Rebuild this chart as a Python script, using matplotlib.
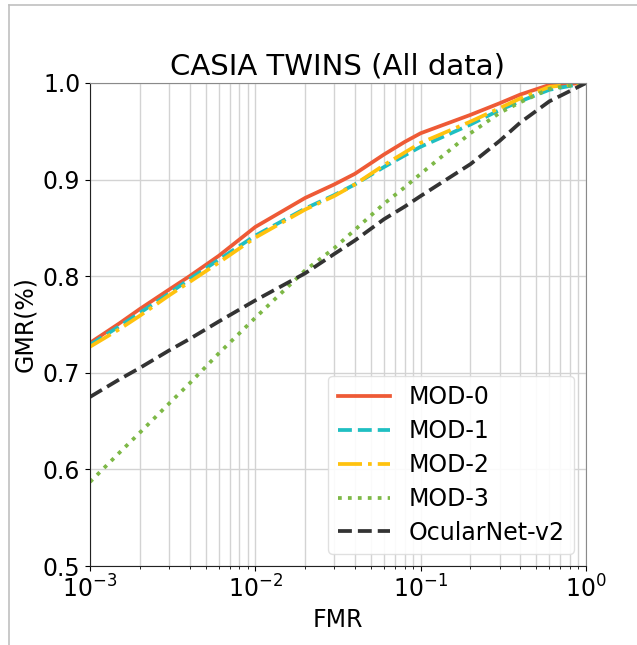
import matplotlib
matplotlib.use("Agg")
import matplotlib.pyplot as plt
from matplotlib.lines import Line2D

# False match rate sample points (log scale)
fmr = [1e-3, 1.5e-3, 2e-3, 3e-3, 4e-3, 6e-3, 1e-2, 2e-2, 3e-2, 4e-2,
       6e-2, 8e-2, 1e-1, 2e-1, 3e-1, 4e-1, 6e-1, 1.0]

# Genuine match rate per model
gmr_mod0 = [0.731, 0.751, 0.766, 0.786, 0.800, 0.821, 0.851, 0.881, 0.895, 0.906,
            0.926, 0.939, 0.948, 0.967, 0.979, 0.988, 0.998, 1.0]
gmr_mod1 = [0.729, 0.748, 0.762, 0.782, 0.797, 0.817, 0.842, 0.870, 0.884, 0.895,
            0.913, 0.925, 0.934, 0.957, 0.972, 0.981, 0.993, 1.0]
gmr_mod2 = [0.727, 0.745, 0.759, 0.780, 0.794, 0.814, 0.840, 0.869, 0.883, 0.895,
            0.915, 0.928, 0.938, 0.960, 0.974, 0.984, 0.996, 1.0]
gmr_mod3 = [0.587, 0.617, 0.638, 0.668, 0.689, 0.720, 0.757, 0.806, 0.829, 0.848,
            0.875, 0.892, 0.906, 0.948, 0.969, 0.980, 0.994, 1.0]
gmr_ocular = [0.675, 0.693, 0.705, 0.723, 0.735, 0.753, 0.775, 0.803, 0.823, 0.837,
              0.859, 0.872, 0.883, 0.916, 0.940, 0.959, 0.981, 1.0]

labels = ["MOD-0", "MOD-1", "MOD-2", "MOD-3", "OcularNet-v2"]
yticks = [0.5, 0.6, 0.7, 0.8, 0.9, 1.0]

fig = plt.figure(figsize=(6.37, 6.45), dpi=100)
ax = fig.add_axes([90 / 637, 1 - 566 / 645, (586 - 90) / 637, (566 - 83) / 645])

lw = 2.7
ax.plot(fmr, gmr_mod0, color="#EE5A36", ls="-", lw=lw, label=labels[0])
ax.plot(fmr, gmr_mod1, color="#1FBFC2", ls="--", lw=lw, label=labels[1])
ax.plot(fmr, gmr_mod2, color="#FFC20E", ls="-.", lw=lw, label=labels[2])
ax.plot(fmr, gmr_mod3, color="#7DB846", ls=":", lw=lw, label=labels[3])
ax.plot(fmr, gmr_ocular, color="#333333", ls="--", lw=lw, label=labels[4])

ax.set_xscale("log")
ax.set_xlim(1e-3, 1.0)
ax.set_ylim(0.5, 1.0)
ax.set_yticks(yticks)
ax.set_yticklabels([f"{v:.1f}" for v in yticks])
ax.grid(True, which="both", color="#d3d3d3", lw=1.0)
ax.set_axisbelow(True)

for side in ("top", "right"):
    ax.spines[side].set_color("#8a8a8a")
for side in ("left", "bottom"):
    ax.spines[side].set_color("#222222")

ax.tick_params(axis="both", which="major", labelsize=17)
ax.set_title("CASIA TWINS (All data)", fontsize=21, pad=6)
ax.set_xlabel("FMR", fontsize=17)
ax.set_ylabel("GMR(%)", fontsize=17)

ax.legend(loc="lower right", fontsize=17, handlelength=2.2, framealpha=0.9,
          edgecolor="#dddddd", labelspacing=0.42)

# thin frame around the figure
fig.add_artist(Line2D([9 / 637, 9 / 637], [0, 1 - 5 / 645], color="#c0c0c0", lw=1.2,
                      transform=fig.transFigure))
fig.add_artist(Line2D([9 / 637, 1], [1 - 5 / 645, 1 - 5 / 645], color="#c0c0c0", lw=1.2,
                      transform=fig.transFigure))

fig.savefig("out.png", dpi=100)
